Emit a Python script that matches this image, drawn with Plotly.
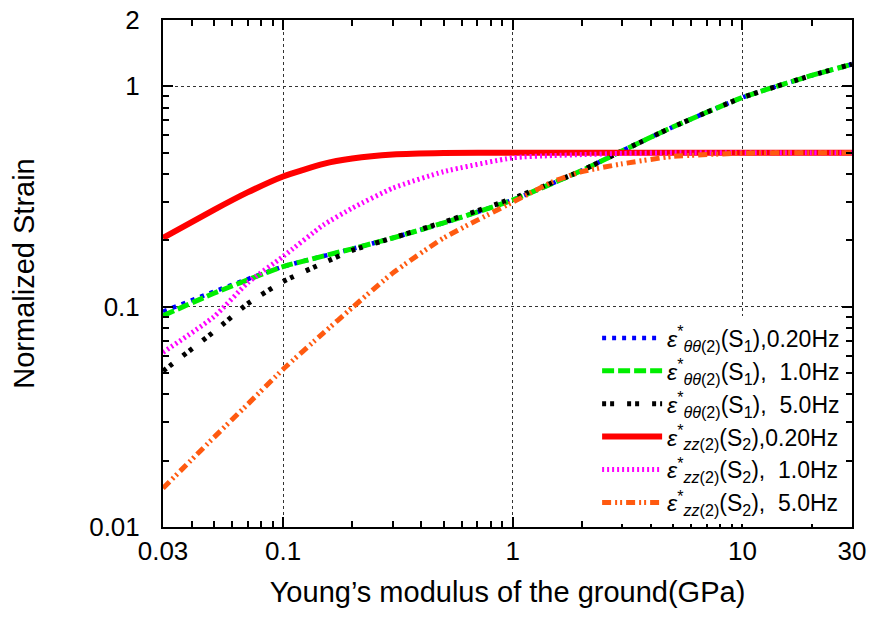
import plotly.graph_objects as go

# ---- data ----
x_theta = [0.03, 0.05, 0.1, 0.2, 0.3, 0.5, 1, 2, 3, 5, 10, 20, 30]
theta_020 = [0.095, 0.117, 0.152, 0.183, 0.205, 0.240, 0.305, 0.415, 0.51, 0.655, 0.89, 1.12, 1.26]
theta_10 = [0.091, 0.115, 0.152, 0.183, 0.205, 0.240, 0.305, 0.415, 0.51, 0.655, 0.89, 1.12, 1.26]
x_theta5 = [0.03, 0.05, 0.07, 0.1, 0.15, 0.2, 0.3, 0.5, 1, 2, 3, 5, 10, 20, 30]
theta_50 = [0.051, 0.077, 0.103, 0.13, 0.158, 0.18, 0.205, 0.242, 0.31, 0.415, 0.51, 0.655, 0.89, 1.12, 1.26]

x_zz = [0.03, 0.05, 0.07, 0.1, 0.15, 0.2, 0.3, 0.5, 1, 1.5, 2, 3, 5, 10, 20, 30]
zz_020 = [0.205, 0.275, 0.33, 0.39, 0.445, 0.47, 0.49, 0.498, 0.5, 0.5, 0.5, 0.5, 0.5, 0.5, 0.5, 0.5]
zz_10 = [0.062, 0.09, 0.128, 0.169, 0.235, 0.28, 0.345, 0.41, 0.474, 0.485, 0.49, 0.496, 0.499, 0.5, 0.5, 0.5]
zz_50 = [0.015, 0.0255, 0.036, 0.052, 0.076, 0.099, 0.142, 0.205, 0.298, 0.37, 0.41, 0.445, 0.481, 0.497, 0.5, 0.5]

strain_sub = ["θθ", "θθ", "θθ", "zz", "zz", "zz"]
s_index = ["1", "1", "1", "2", "2", "2"]
freq_text = [",0.20Hz", ",\u00a0\u00a01.0Hz", ",\u00a0\u00a05.0Hz",
             ",0.20Hz", ",\u00a0\u00a01.0Hz", ",\u00a0\u00a05.0Hz"]

x_tickvals = [0.03, 0.1, 1, 10, 30]
x_ticktext = ["0.03", "0.1", "1", "10", "30"]
y_tickvals = [0.01, 0.1, 1, 2]
y_ticktext = ["0.01", "0.1", "1", "2"]
x_minor = [0.04, 0.05, 0.06, 0.07, 0.08, 0.09, 0.2, 0.3, 0.4, 0.5, 0.6, 0.7, 0.8, 0.9,
           2, 3, 4, 5, 6, 7, 8, 9, 20]
y_minor = [0.02, 0.03, 0.04, 0.05, 0.06, 0.07, 0.08, 0.09, 0.2, 0.3, 0.4, 0.5, 0.6, 0.7, 0.8, 0.9]

series = [
    (x_theta, theta_020, "#0000ff", "4px,6px", 4.5),
    (x_theta, theta_10, "#00ee00", "12px,4px", 5),
    (x_theta5, theta_50, "#000000", "4px,4px,4px,13px", 5),
    (x_zz, zz_020, "#ff0000", "solid", 6),
    (x_zz, zz_10, "#ff00ff", "2px,3px", 5),
    (x_zz, zz_50, "#ff5a10", "9px,4px,2px,3px,2px,4px", 5),
]


def legend_label(sub, idx, freq):
    return ('<i>ε</i><sup>*</sup><sub><i>' + sub + '</i>(2)</sub>'
            '(S<sub>' + idx + '</sub>)' + freq)


fig = go.Figure()
for (xs, ys, col, dash, w), sb, si, fq in zip(series, strain_sub, s_index, freq_text):
    fig.add_trace(go.Scatter(x=xs, y=ys, mode="lines", name=legend_label(sb, si, fq),
                             line=dict(color=col, dash=dash, width=w, shape="spline", smoothing=0.5)))

font_family = "Liberation Sans, Arial, sans-serif"
fig.update_layout(
    width=886, height=622,
    margin=dict(l=155, r=42, t=12, b=103),
    paper_bgcolor="white", plot_bgcolor="white",
    font=dict(family=font_family, size=26, color="black"),
    showlegend=True,
    legend=dict(x=0.99, y=0.005, xanchor="right", yanchor="bottom",
                bgcolor="white", borderwidth=0, font=dict(size=23),
                itemwidth=60, tracegroupgap=0),
)
fig.update_xaxes(
    type="log", range=[-1.5228787, 1.4771213], automargin=False,
    tickmode="array", tickvals=x_tickvals, ticktext=x_ticktext,
    ticks="inside", ticklen=10, tickwidth=2, tickcolor="black",
    showline=True, linecolor="black", linewidth=2, mirror="allticks",
    showgrid=True, gridcolor="#333333", griddash="dot", gridwidth=1,
    minor=dict(tickmode="array", tickvals=x_minor, ticks="inside", ticklen=6,
               tickwidth=2, tickcolor="black", showgrid=False),
    zeroline=False, ticklabeloverflow="allow",
    tickfont=dict(size=26),
    title=dict(text="Young’s modulus of the ground(GPa)", font=dict(size=29), standoff=16),
)
fig.update_yaxes(
    type="log", range=[-2.00001, 0.30104], automargin=False,
    tickmode="array", tickvals=y_tickvals, ticktext=y_ticktext,
    ticks="inside", ticklen=10, tickwidth=2, tickcolor="black",
    showline=True, linecolor="black", linewidth=2, mirror="allticks",
    showgrid=True, gridcolor="#333333", griddash="dot", gridwidth=1,
    minor=dict(tickmode="array", tickvals=y_minor, ticks="inside", ticklen=6,
               tickwidth=2, tickcolor="black", showgrid=False),
    zeroline=False, ticklabeloverflow="allow",
    tickfont=dict(size=26),
    ticklabelstandoff=16,
    title=dict(text="Normalized Strain", font=dict(size=29), standoff=46),
)

fig.write_html("out.html")
